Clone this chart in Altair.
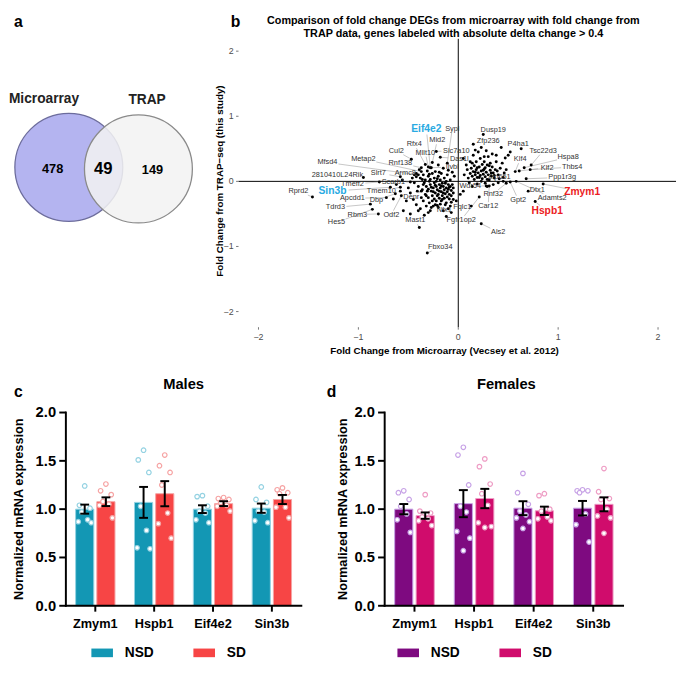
import altair as alt
import pandas as pd

FONT = "Liberation Sans"
W, H = 676, 652

# ---------------- (a) Venn ----------------
venn_sets = ["Microarray", "TRAP"]
venn_counts = [478, 49, 149]          # microarray only, both, TRAP only

# ---------------- (b) scatter ----------------
bg_x = [-0.42, -0.38, -0.35, -0.33, -0.30, -0.28, -0.26, -0.24, -0.22, -0.20, -0.18, -0.16, -0.14, -0.12,
        -0.10, -0.08, -0.35, -0.32, -0.30, -0.28, -0.27, -0.25, -0.24, -0.23, -0.22, -0.21, -0.20, -0.19,
        -0.18, -0.17, -0.16, -0.15, -0.14, -0.13, -0.12, -0.11, -0.10, -0.09, -0.08, -0.07, -0.06, -0.05,
        -0.26, -0.24, -0.22, -0.19, -0.17, -0.14, -0.12, -0.09, -0.07, -0.30, -0.33, -0.36, -0.40, -0.44,
        -0.46, -0.50, -0.48, -0.45, -0.42, -0.38, -0.35, -0.32, -0.28, -0.25, -0.20, -0.15, -0.10, -0.07,
        -0.13, -0.18, -0.29, -0.05, -0.04, -0.06, -0.11, -0.17, -0.23, -0.31, -0.39, -0.20, -0.15, -0.10,
        -0.52, -0.55, -0.48, -0.58, -0.12, -0.34, -0.62, -0.65, -0.56,
        -0.34, -0.31, -0.29, -0.27, -0.25, -0.23, -0.21, -0.19, -0.17, -0.15, -0.13, -0.11, -0.09, -0.07,
        -0.32, -0.26, -0.16, -0.21, -0.29, -0.37, -0.41, -0.44, -0.36, -0.19, -0.08, -0.23, -0.27, -0.05,
        -0.40, -0.30,
        0.10, 0.12, 0.13, 0.14, 0.15, 0.16, 0.17, 0.18, 0.19, 0.20, 0.21, 0.22, 0.23, 0.24, 0.25, 0.26,
        0.27, 0.28, 0.29, 0.30, 0.31, 0.32, 0.33, 0.34, 0.35, 0.36, 0.37, 0.38, 0.40, 0.42, 0.44, 0.45,
        0.47, 0.50, 0.52, 0.18, 0.22, 0.26, 0.30, 0.34, 0.15, 0.20, 0.28, 0.12, 0.09, 0.08, 0.06, 0.11,
        0.19, 0.27, 0.35, 0.40, 0.45, 0.24, 0.16, 0.32, 0.14, 0.29, 0.38, 0.43, 0.05, 0.17, 0.23,
        0.21, 0.25, 0.29, 0.33, 0.17, 0.23, 0.27, 0.31, 0.19, 0.36, 0.14, 0.39, 0.41, 0.26, 0.48,
        0.02, -0.02, 0.05]
bg_y = [0.12, 0.05, 0.10, 0.02, 0.08, 0.03, 0.12, 0.05, 0.00, 0.08, 0.02, -0.03, 0.05, 0.00,
        -0.05, 0.02, -0.05, -0.08, -0.12, -0.05, -0.15, -0.10, -0.02, -0.18, -0.08, -0.13, -0.20, -0.05,
        -0.10, -0.16, -0.22, -0.08, -0.13, -0.19, -0.10, -0.16, -0.12, -0.20, -0.08, -0.14, -0.05, -0.18,
        -0.22, -0.27, -0.30, -0.26, -0.30, -0.26, -0.33, -0.27, -0.32, -0.25, -0.20, -0.13, -0.08, -0.02,
        0.05, -0.10, -0.18, -0.28, -0.36, -0.42, -0.30, -0.38, -0.45, -0.38, -0.40, -0.45, -0.42, -0.48,
        -0.36, -0.35, -0.33, -0.10, 0.08, 0.14, 0.10, 0.12, 0.15, 0.16, 0.18, 0.25, 0.20, 0.17,
        -0.30, -0.45, -0.50, -0.15, -0.54, -0.52, -0.05, -0.27, 0.02,
        -0.02, -0.15, 0.00, -0.09, -0.16, -0.06, -0.22, -0.15, -0.07, -0.18, -0.03, -0.24, -0.09, -0.22,
        -0.22, -0.30, -0.28, 0.04, 0.11, -0.25, -0.15, 0.10, 0.03, 0.14, -0.38, -0.36, -0.40, -0.28,
        -0.45, -0.48,
        0.05, 0.12, 0.20, 0.08, 0.15, 0.03, 0.10, 0.18, 0.06, 0.13, 0.22, 0.09, 0.16, 0.04, 0.11, 0.19,
        0.07, 0.14, 0.25, 0.10, 0.02, 0.17, 0.08, 0.22, 0.13, 0.05, 0.18, 0.30, 0.10, 0.20, 0.28, 0.06,
        0.36, 0.40, 0.45, 0.30, 0.35, 0.30, 0.38, 0.42, 0.40, 0.45, 0.47, 0.30, 0.18, 0.25, 0.10, -0.02,
        -0.04, -0.03, -0.05, -0.02, 0.00, 0.26, 0.24, 0.28, -0.08, -0.08, 0.40, 0.52, 0.35, 0.48, 0.52,
        0.06, 0.17, 0.03, 0.13, 0.14, 0.00, 0.21, 0.24, 0.21, 0.09, 0.28, 0.16, 0.04, 0.38, 0.18,
        -0.20, -0.30, -0.15]

lab_gene = ["Eif4e2", "Sypl", "Mid2", "Rfx4", "Mllt10", "Slc7a10", "Cul2", "Das1l", "Metap2", "Mfsd4",
            "Rnf138", "Ilvbl", "2810410L24Rik", "Slrt7", "Armc8", "Tmeff2", "Scarb1", "Sin3b", "Rprd2", "Tmem10",
            "Apcdd1", "Dbp", "Denr", "Tdrd3", "Rbm3", "Odf2", "Hes5", "Mast1", "Nfx1", "Fbxo34",
            "Dusp19", "Zfp236", "P4ha1", "Tsc22d3", "Klf4", "Hspa8", "Klf2", "Thbs4", "Zfp651", "Ppp1r3g",
            "Wdr54", "Dtx1", "Zmym1", "Rnf32", "Gpt2", "Adamts2", "Hspb1", "Car12", "Fqlc1", "Fgfr1op2", "Als2"]
lab_x = [-0.28, -0.11, -0.26, -0.33, -0.30, -0.22, -0.47, -0.18, -0.37, -0.40,
         -0.37, -0.27, -0.95, -0.58, -0.42, -0.79, -0.48, -0.68, -1.46, -0.58,
         -0.72, -0.63, -0.37, -0.88, -0.80, -0.57, -0.86, -0.39, -0.21, -0.31,
         0.25, 0.15, 0.63, 0.73, 0.57, 0.66, 0.61, 0.72, 0.46, 0.68,
         0.28, 0.70, 0.85, 0.48, 0.52, 0.58, 0.77, 0.31, 0.13, 0.21, 0.23]
lab_y = [0.21, 0.28, 0.29, 0.26, 0.22, 0.46, 0.34, 0.37, 0.15, 0.10,
         0.21, 0.21, 0.06, 0.07, 0.07, -0.01, -0.01, -0.09, -0.24, -0.09,
         -0.25, -0.19, -0.15, -0.35, -0.50, -0.22, -0.43, -0.71, -0.37, -1.10,
         0.72, 0.57, 0.50, 0.25, 0.15, 0.21, 0.16, 0.18, 0.13, 0.04,
         -0.07, -0.15, -0.04, -0.03, -0.01, 0.00, -0.31, -0.07, -0.38, -0.24, -0.65]
lab_tx = [-0.32, -0.06, -0.21, -0.44, -0.33, -0.02, -0.62, 0.01, -0.95, -1.31,
          -0.58, -0.06, -1.21, -0.80, -0.53, -1.06, -0.65, -1.26, -1.60, -0.77,
          -1.06, -0.82, -0.47, -1.23, -1.01, -0.67, -1.22, -0.43, -0.14, -0.18,
          0.35, 0.30, 0.60, 0.85, 0.62, 1.10, 0.89, 1.14, 0.41, 1.04,
          0.12, 0.79, 1.24, 0.35, 0.60, 0.94, 0.89, 0.30, 0.04, 0.03, 0.40]
lab_ty = [0.81, 0.81, 0.63, 0.57, 0.44, 0.47, 0.47, 0.35, 0.34, 0.29,
          0.28, 0.22, 0.10, 0.13, 0.13, -0.04, -0.01, -0.15, -0.15, -0.15,
          -0.26, -0.29, -0.24, -0.40, -0.51, -0.51, -0.63, -0.60, -0.44, -1.01,
          0.79, 0.62, 0.57, 0.47, 0.34, 0.37, 0.21, 0.22, 0.07, 0.06,
          -0.07, -0.13, -0.16, -0.19, -0.28, -0.25, -0.46, -0.38, -0.40, -0.59, -0.78]
blue_genes = ["Eif4e2", "Sin3b"]
red_genes = ["Zmym1", "Hspb1"]
scatter_ticks = [-2, -1, 0, 1, 2]

# ---------------- (c, d) qPCR ----------------
genes = ["Zmym1", "Hspb1", "Eif4e2", "Sin3b"]
groups = ["NSD", "SD"]
bar_ticks = [0.0, 0.5, 1.0, 1.5, 2.0]
male_mean = {"NSD": [1.00, 1.07, 1.00, 1.01], "SD": [1.077, 1.16, 1.057, 1.10]}
male_sem = {"NSD": [0.047, 0.16, 0.04, 0.048], "SD": [0.045, 0.13, 0.025, 0.047]}
male_pts = {
    "NSD": [[1.24, 1.04, 1.01, 0.97, 0.89, 0.86, 0.87], [1.61, 1.51, 1.38, 1.03, 0.78, 0.60, 0.59],
            [1.14, 1.13, 1.03, 0.96, 0.89, 0.86, 0.98], [1.23, 1.10, 1.07, 0.97, 0.88, 0.86, 0.98]],
    "SD": [[1.26, 1.19, 1.15, 1.08, 1.05, 1.04, 0.91], [1.56, 1.45, 1.38, 1.25, 0.96, 0.85, 0.70],
           [1.12, 1.11, 1.10, 1.07, 1.04, 1.03, 0.98], [1.22, 1.20, 1.17, 1.16, 1.02, 1.02, 0.91]],
}
female_mean = {"NSD": [1.00, 1.057, 1.01, 1.01], "SD": [0.933, 1.11, 0.983, 1.05]}
female_sem = {"NSD": [0.053, 0.14, 0.072, 0.075], "SD": [0.033, 0.10, 0.043, 0.072]}
female_pts = {
    "NSD": [[1.19, 1.17, 1.10, 1.03, 0.95, 0.89, 0.76], [1.64, 1.56, 1.25, 1.03, 0.97, 0.77, 0.70, 0.57],
            [1.37, 1.17, 1.05, 0.98, 0.91, 0.87, 0.80, 0.94], [1.20, 1.19, 1.19, 1.17, 0.95, 0.84, 0.66]],
    "SD": [[1.15, 0.98, 0.96, 0.92, 0.90, 0.88, 0.83], [1.52, 1.44, 1.26, 1.16, 1.04, 0.86, 0.82, 0.81],
           [1.16, 1.14, 1.00, 0.98, 0.92, 0.90, 0.88], [1.42, 1.18, 1.11, 1.10, 1.00, 0.93, 0.91, 0.75]],
}
male_colors, male_light = ["#1397B4", "#F74545"], ["#94D2E2", "#F6A3A3"]
female_colors, female_light = ["#7E0A80", "#D00C6C"], ["#C7A2E6", "#EE9CC4"]


def fmt_minus(v, spec):
    return format(v, spec).replace("-", "\u2212")


# ====================== helpers ======================
def txt(s, x, y, size, align="left", weight="bold", color="black", angle=0):
    return alt.Chart(pd.DataFrame({"t": [s]})).mark_text(
        align=align, baseline="middle", fontSize=size, fontWeight=weight, font=FONT, color=color, angle=angle
    ).encode(x=alt.value(x), y=alt.value(y), text="t:N")


# ---------------- Venn layer ----------------
vxs = alt.Scale(domain=[-1, 2.5], range=[2, 194.5], nice=False, zero=False)
vys = alt.Scale(domain=[-1.6, 1.6], range=[243, 67], nice=False, zero=False)
venn_cx, venn_cy = [0.0, 1.29], [0.0, -0.03]
venn_name_x, venn_name_y = [-0.46, 1.45], [1.27, 1.24]
venn_count_x, venn_count_y = [-0.30, 0.64, 1.55], [-0.04, -0.04, -0.05]


def vpos():
    return dict(x=alt.X("x:Q", scale=vxs, axis=None), y=alt.Y("y:Q", scale=vys, axis=None))


c_left = alt.Chart(pd.DataFrame({"x": [venn_cx[0]], "y": [venn_cy[0]]})).mark_point(
    shape="circle", size=12100, filled=True, fill="#B4B4F0", stroke="#6C6C9C", strokeWidth=1.3, opacity=1
).encode(**vpos())
c_right = alt.Chart(pd.DataFrame({"x": [venn_cx[1]], "y": [venn_cy[1]]})).mark_point(
    shape="circle", size=12100, filled=True, fill="#F2F2F2", fillOpacity=0.86, stroke="#8A8A8A",
    strokeWidth=1.3, strokeOpacity=1
).encode(**vpos())
v_names = alt.Chart(pd.DataFrame({"x": venn_name_x, "y": venn_name_y, "t": venn_sets})).mark_text(
    fontSize=14, fontWeight="bold", font=FONT, color="#222"
).encode(text="t:N", **vpos())
cnt_df = pd.DataFrame({"x": venn_count_x, "y": venn_count_y, "t": [str(c) for c in venn_counts],
                       "big": [False, True, False]})
v_counts = alt.Chart(cnt_df).transform_filter("!datum.big").mark_text(
    fontSize=13, fontWeight="bold", font=FONT, color="black").encode(text="t:N", **vpos())
v_big = alt.Chart(cnt_df).transform_filter("datum.big").mark_text(
    fontSize=17, fontWeight="bold", font=FONT, color="black").encode(text="t:N", **vpos())
venn = alt.layer(c_left, c_right, v_names, v_counts, v_big)

# ---------------- Scatter layer ----------------
SX0, SX1 = -2.2, 2.18
SY0, SY1 = -2.24, 2.19
sxs = alt.Scale(domain=[SX0, SX1], range=[230, 676], nice=False, zero=False)
sys_ = alt.Scale(domain=[SY0, SY1], range=[318, 24], nice=False, zero=False)
PXX, PXY = 446 / (SX1 - SX0), 294 / (SY1 - SY0)


def spos(xf, yf):
    return dict(x=alt.X(f"{xf}:Q", scale=sxs, axis=None), y=alt.Y(f"{yf}:Q", scale=sys_, axis=None))


bg_df = pd.DataFrame({"x": bg_x, "y": bg_y})
lab_df = pd.DataFrame({"gene": lab_gene, "x": lab_x, "y": lab_y, "tx": lab_tx, "ty": lab_ty})
lab_df["hl"] = lab_df.gene.isin(blue_genes + red_genes)

ends_x, ends_y, keep = [], [], []
for _, r in lab_df.iterrows():
    hw = len(r.gene) * (3.0 if r.hl else 1.95) + 1.5
    hh = 6.0 if r.hl else 4.0
    dxp, dyp = (r.x - r.tx) * PXX, (r.y - r.ty) * PXY
    s = max(abs(dxp) / hw, abs(dyp) / hh)
    keep.append(s > 1.15)
    s = max(s, 1.0)
    ends_x.append(r.tx + (r.x - r.tx) / s)
    ends_y.append(r.ty + (r.y - r.ty) / s)
lab_df["ex"], lab_df["ey"], lab_df["lead"] = ends_x, ends_y, keep

zero_df = pd.DataFrame({"x": [SX0, 0.0], "x2": [SX1, 0.0], "y": [0.0, SY0], "y2": [0.0, SY1]})
zero_lines = alt.Chart(zero_df).mark_rule(color="black", strokeWidth=1).encode(
    x2="x2:Q", y2="y2:Q", **spos("x", "y"))
leaders = alt.Chart(lab_df).transform_filter("datum.lead").mark_rule(color="#A0A0A0", strokeWidth=0.6).encode(
    x2="ex:Q", y2="ey:Q", **spos("x", "y"))
bg_pts = alt.Chart(bg_df).mark_circle(size=9, color="black", opacity=1).encode(**spos("x", "y"))
lab_pts = alt.Chart(lab_df).mark_circle(size=9, color="black", opacity=1).encode(**spos("x", "y"))
lab_txt = alt.Chart(lab_df).transform_filter("!datum.hl").mark_text(
    fontSize=7.5, font=FONT, color="#333333", baseline="middle").encode(text="gene:N", **spos("tx", "ty"))
blue_txt = alt.Chart(lab_df).transform_filter(alt.FieldOneOfPredicate(field="gene", oneOf=blue_genes)).mark_text(
    fontSize=10.5, font=FONT, fontWeight="bold", color="#29AAE2", baseline="middle").encode(
    text="gene:N", **spos("tx", "ty"))
red_txt = alt.Chart(lab_df).transform_filter(alt.FieldOneOfPredicate(field="gene", oneOf=red_genes)).mark_text(
    fontSize=10.5, font=FONT, fontWeight="bold", color="#EC1C24", baseline="middle").encode(
    text="gene:N", **spos("tx", "ty"))

# scatter axes (tick labels + small ticks) drawn through the scatter scales
sxt = pd.DataFrame({"v": scatter_ticks, "lab": [fmt_minus(v, "d") for v in scatter_ticks]})
sxt["y0"], sxt["y1"], sxt["x0"], sxt["x1"] = SY0, SY0 - 2.5 / PXY, SX0, SX0 - 2.5 / PXX
sx_ticks = alt.Chart(sxt).mark_rule(color="#555", strokeWidth=0.8).encode(y2="y1:Q", **spos("v", "y0"))
sy_ticks = alt.Chart(sxt).mark_rule(color="#555", strokeWidth=0.8).encode(x2="x1:Q", **spos("x0", "v"))
sx_labs = alt.Chart(sxt).mark_text(fontSize=9, font=FONT, color="#4D4D4D", baseline="middle", dy=10).encode(
    text="lab:N", **spos("v", "y0"))
sy_labs = alt.Chart(sxt).mark_text(fontSize=9, font=FONT, color="#4D4D4D", baseline="middle", align="right",
                                   dx=-5).encode(text="lab:N", **spos("x0", "v"))
scatter = alt.layer(zero_lines, leaders, bg_pts, lab_pts, lab_txt, blue_txt, red_txt,
                    sx_ticks, sy_ticks, sx_labs, sy_labs)

# ---------------- bar panels ----------------
GO, CAP = 0.18, 0.075
JIT = [0.0, -0.09, 0.09, -0.05, 0.05, -0.11, 0.11, 0.0]
Y_RANGE = [602, 405]
YPX = (Y_RANGE[0] - Y_RANGE[1]) / 2.0


def panel(means, sems, pts, xr, cols, lights, legx):
    step = (xr[1] - xr[0]) / 4.0
    rows, prow = [], []
    for g in groups:
        for ci, gene in enumerate(genes):
            pos = ci + (-GO if g == "NSD" else GO)
            m, s = means[g][ci], sems[g][ci]
            rows.append(dict(gene=gene, group=g, pos=pos, mean=m, lo=m - s, hi=m + s))
            for k, v in enumerate(sorted(pts[g][ci], reverse=True)):
                prow.append(dict(group=g, xp=pos + JIT[k % len(JIT)], val=v))
    bdf = pd.DataFrame(rows)
    cdf = pd.concat([bdf.assign(cy=bdf.lo), bdf.assign(cy=bdf.hi)], ignore_index=True)
    cdf["xa"], cdf["xb"] = cdf.pos - CAP, cdf.pos + CAP
    pdf = pd.DataFrame(prow)

    xs = alt.Scale(domain=[-0.5, 3.5], range=xr, nice=False, zero=False)
    ys = alt.Scale(domain=[0, 2], range=Y_RANGE, nice=False, zero=False)
    col = alt.Scale(domain=groups, range=cols)
    lig = alt.Scale(domain=groups, range=lights)

    def pp(xf, yf):
        return dict(x=alt.X(f"{xf}:Q", scale=xs, axis=None), y=alt.Y(f"{yf}:Q", scale=ys, axis=None))

    leg = alt.Legend(orient="none", legendX=legx, legendY=639, direction="horizontal", title=None,
                     symbolType="M-1,-0.4H1V0.4H-1Z", symbolSize=484, symbolStrokeWidth=0, symbolOpacity=1,
                     labelFont=FONT, labelFontSize=14, labelFontWeight="bold", labelColor="black",
                     labelOffset=12, columnPadding=40)
    bars = alt.Chart(bdf).mark_bar(orient="vertical", size=18.5, strokeWidth=1).encode(
        x=alt.X("pos:Q", scale=xs, axis=None),
        y=alt.Y("mean:Q", scale=ys, axis=None, stack=None),
        color=alt.Color("group:N", scale=col, legend=leg),
        stroke=alt.Stroke("group:N", scale=lig, legend=None))
    dots = alt.Chart(pdf).mark_point(shape="circle", size=22, filled=True, fill="white", strokeWidth=1.2,
                                     opacity=1).encode(
        stroke=alt.Stroke("group:N", scale=lig, legend=None), **pp("xp", "val"))
    err = alt.Chart(bdf).mark_rule(color="black", strokeWidth=2).encode(y2="hi:Q", **pp("pos", "lo"))
    caps = alt.Chart(cdf).mark_rule(color="black", strokeWidth=2).encode(x2="xb:Q", **pp("xa", "cy"))

    # axes drawn through the panel scales
    ax_df = pd.DataFrame({"x": [-0.5, -0.5], "x2": [-0.5, 3.5], "y": [0.0, 0.0], "y2": [2.0, 0.0]})
    ax_lines = alt.Chart(ax_df).mark_rule(color="black", strokeWidth=2, strokeCap="square").encode(
        x2="x2:Q", y2="y2:Q", **pp("x", "y"))
    yt = pd.DataFrame({"v": bar_ticks, "lab": [f"{v:.1f}" for v in bar_ticks]})
    yt["x0"], yt["x1"] = -0.5, -0.5 - 7 / step
    y_ticks = alt.Chart(yt).mark_rule(color="black", strokeWidth=2).encode(x2="x1:Q", **pp("x0", "v"))
    y_labs = alt.Chart(yt).mark_text(font=FONT, fontSize=15, fontWeight="bold", color="black", align="right",
                                     baseline="middle", dx=-10).encode(text="lab:N", **pp("x0", "v"))
    xt = pd.DataFrame({"i": list(range(len(genes))), "lab": genes})
    xt["y0"], xt["y1"] = 0.0, -6 / YPX
    x_ticks = alt.Chart(xt).mark_rule(color="black", strokeWidth=2).encode(y2="y1:Q", **pp("i", "y0"))
    x_labs = alt.Chart(xt).mark_text(font=FONT, fontSize=13, fontWeight="bold", color="black",
                                     baseline="middle", dy=19).encode(text="lab:N", **pp("i", "y0"))
    return alt.layer(bars, dots, err, caps, ax_lines, y_ticks, y_labs, x_ticks, x_labs)


males = panel(male_mean, male_sem, male_pts, [49, 299], male_colors, male_light, 80)
females = panel(female_mean, female_sem, female_pts, [374, 627], female_colors, female_light, 392)

ycen = sum(Y_RANGE) / 2
ann = [
    txt("a", 1, 7, 16), txt("b", 222, 7, 16), txt("c", 1, 384, 16), txt("d", 320, 384, 16),
    txt("Comparison of fold change DEGs from microarray with fold change from", 449, 6, 11, "center"),
    txt("TRAP data, genes labeled with absolute delta change > 0.4", 449, 19, 11, "center"),
    txt("Fold Change from Microarray (Vecsey et al. 2012)", 440, 342, 10, "center"),
    txt("Fold Change from TRAP\u2212seq (this study)", 211, 169, 10, "center", angle=270),
    txt("Males", 174, 376, 15, "center"), txt("Females", 503, 376, 15, "center"),
    txt("Normalized mRNA expression", 6, ycen, 13, "center", angle=270),
    txt("Normalized mRNA expression", 337, ycen, 13, "center", angle=270),
]

chart = alt.layer(venn, scatter, males, females, *ann).properties(
    width=W, height=H, padding=0
).resolve_scale(
    x="independent", y="independent", color="independent", stroke="independent"
).resolve_legend(
    color="independent", stroke="independent"
).configure_view(strokeWidth=0, stroke="transparent")

chart.save("out.html", embed_options={"renderer": "svg", "actions": False})
